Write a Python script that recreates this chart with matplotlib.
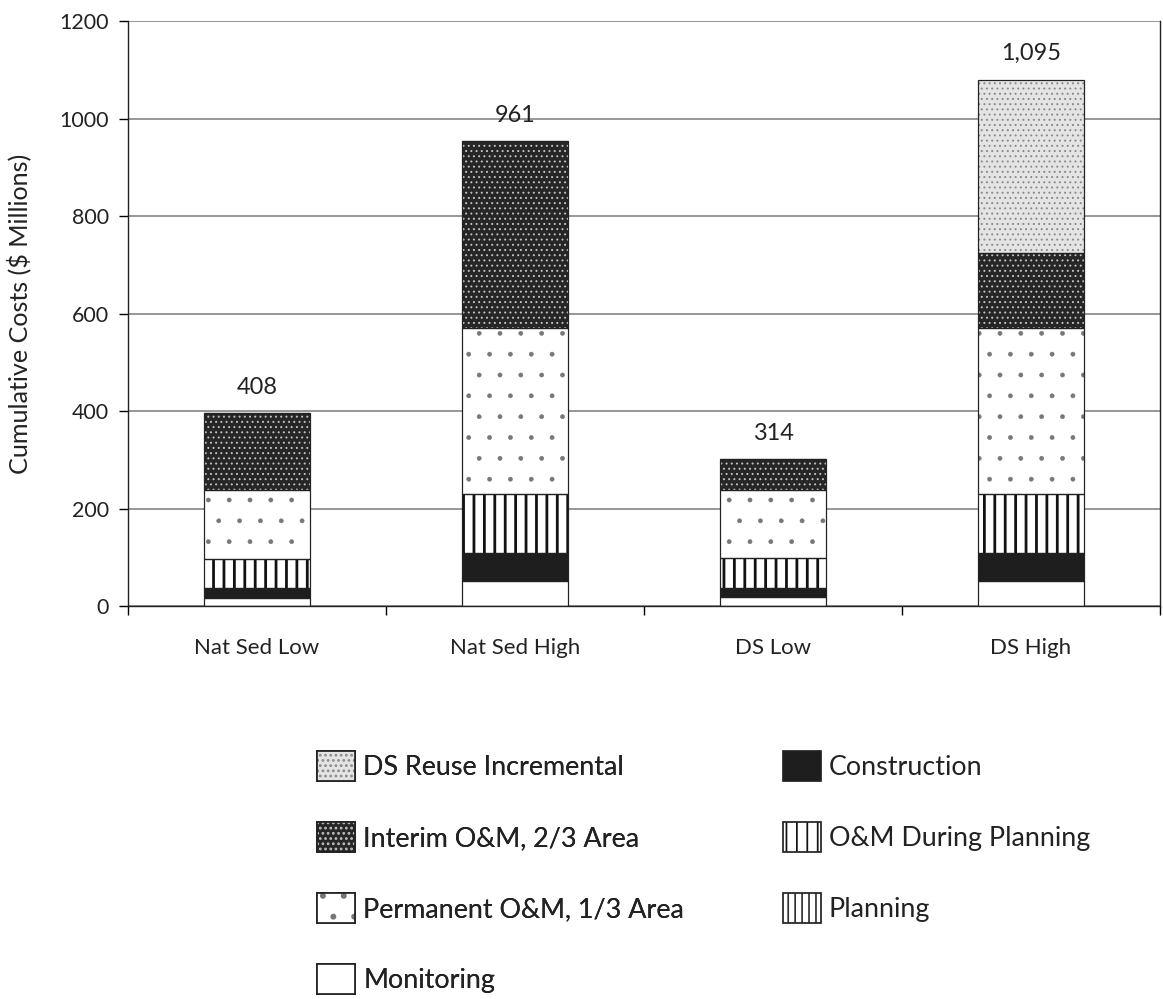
import matplotlib
matplotlib.use("Agg")
import matplotlib.pyplot as plt
from matplotlib.patches import Patch
import numpy as np

plt.rcParams['font.family'] = ['Lato', 'DejaVu Sans']

# data ($ millions)
scenarios = ["Nat Sed Low", "Nat Sed High", "DS Low", "DS High"]
planning = [0, 0, 0, 0]
monitoring = [18, 53, 20, 53]
construction = [20, 56, 18, 56]
om_planning = [60, 121, 62, 121]
permanent = [140, 340, 139, 341]
interim = [158, 383, 63, 153]
ds_reuse = [0, 0, 0, 356]
total_labels = ["408", "961", "314", "1,095"]

# stacking order bottom -> top : (name, values, face, hatch, hatch colour, hatch lw)
series = [
    ("Planning", planning, "white", "|||", "#333333", 0.9),
    ("Monitoring", monitoring, "white", "", "white", 0.9),
    ("Construction", construction, "#1e1e1e", "", "#1e1e1e", 0.9),
    ("O&M During Planning", om_planning, "white", "||", "#111111", 1.6),
    ("Permanent O&M, 1/3 Area", permanent, "white", ".", "#777777", 0.3),
    ("Interim O&M, 2/3 Area", interim, "#262626", "....", "#c0c0c0", 0.6),
    ("DS Reuse Incremental", ds_reuse, "#e4e4e4", "....", "#8a8a8a", 0.6),
]

DPI = 125
fig = plt.figure(figsize=(1163 / DPI, 999 / DPI), dpi=DPI)
ax = fig.add_axes([0.1101, 0.3929, 0.8873, 0.5861])

x = np.arange(len(scenarios))
w = 0.41
bottom = np.zeros(len(scenarios))
handles = {}
for name, vals, face, hatch, hcol, lw_h in series:
    vals = np.array(vals, dtype=float)
    with plt.rc_context({'hatch.linewidth': lw_h}):
        fill = ax.bar(x, vals, w, bottom=bottom, color=face, edgecolor=hcol,
                      hatch=hatch, linewidth=0, zorder=2)
        for p in fill:
            if hasattr(p, "set_hatch_linewidth"):
                p.set_hatch_linewidth(lw_h)
        hf = Patch(facecolor=face, edgecolor=hcol, hatch=hatch, linewidth=0)
        if hasattr(hf, "set_hatch_linewidth"):
            hf.set_hatch_linewidth(lw_h)
    ax.bar(x, vals, w, bottom=bottom, fill=False, edgecolor="#222222",
           linewidth=0.7, zorder=3)
    ho = Patch(fill=False, edgecolor="#222222", linewidth=1.0)
    handles[name] = (hf, ho)
    bottom += vals

for i, lab in enumerate(total_labels):
    ax.annotate(lab, (x[i], bottom[i]), xytext=(0, 9), textcoords="offset points",
                ha="center", va="bottom", fontsize=13.5, color="#222222")

ax.set_xlim(-0.5, 3.5)
ax.set_ylim(0, 1200)
ax.set_yticks(np.arange(0, 1201, 200))
ax.yaxis.grid(True, color="#8a8a8a", linewidth=1.0, zorder=0)
ax.set_axisbelow(True)
ax.set_xticks(x)
ax.set_xticklabels(scenarios, fontsize=12.8, color="#222222")
ax.set_xticks(np.arange(-0.5, 3.6, 1), minor=True)
ax.tick_params(axis="x", which="major", length=0, pad=18)
ax.tick_params(axis="x", which="minor", length=5, width=0.8, direction="out")
ax.tick_params(axis="y", length=5, width=0.8, labelsize=12.3, pad=6, labelcolor="#222222")
for s in ax.spines.values():
    s.set_color("#222222")
    s.set_linewidth(0.8)
ax.spines["top"].set_visible(False)
ax.set_ylabel("Cumulative Costs ($ Millions)", fontsize=14.5, labelpad=16, color="#222222")

col1 = ["DS Reuse Incremental", "Interim O&M, 2/3 Area", "Permanent O&M, 1/3 Area", "Monitoring"]
col2 = ["Construction", "O&M During Planning", "Planning"]
kw = dict(loc="upper left", frameon=False, fontsize=15.5, handlelength=1.42,
          handleheight=1.34, labelspacing=1.52, handletextpad=0.3, borderpad=0,
          borderaxespad=0, labelcolor="#222222")
leg1 = fig.legend([handles[n] for n in col1], col1, bbox_to_anchor=(0.2726, 0.2483), **kw)
fig.add_artist(leg1)
fig.legend([handles[n] for n in col2], col2, bbox_to_anchor=(0.673, 0.2483), **kw)

fig.savefig("out.png", dpi=DPI)
